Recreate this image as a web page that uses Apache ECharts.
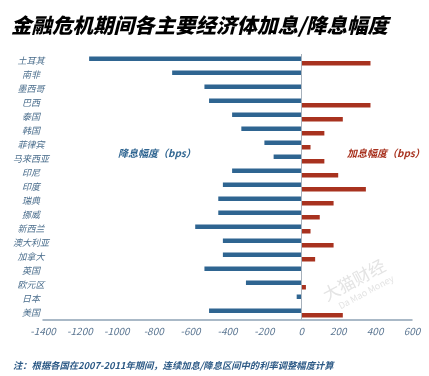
<!DOCTYPE html>
<html>
<head>
<meta charset="utf-8">
<script src="https://cdn.jsdelivr.net/npm/echarts@6/dist/echarts.min.js"></script>
<style>
  html, body { margin: 0; padding: 0; background: #fff; }
  #chart { width: 429px; height: 376px; }
</style>
</head>
<body>
<div id="chart"></div>
<script>
// 各经济体
var countries = ['土耳其', '南非', '墨西哥', '巴西', '泰国', '韩国', '菲律宾', '马来西亚', '印尼', '印度',
    '瑞典', '挪威', '新西兰', '澳大利亚', '加拿大', '英国', '欧元区', '日本', '美国'];
// 降息幅度 (bps)
var cutBps = [-1150, -700, -525, -500, -375, -325, -200, -150, -375, -425,
    -450, -450, -575, -425, -425, -525, -300, -25, -500];
// 加息幅度 (bps)
var hikeBps = [375, 0, 0, 375, 225, 125, 50, 125, 200, 350,
    175, 100, 50, 175, 75, 0, 25, 0, 225];

var FONT = '"Noto Sans CJK SC", "Noto Sans", sans-serif';
var blue = '#2f6591';
var red = '#a8321f';

var myChart = echarts.init(document.getElementById('chart'));

var option = {
    animation: false,
    title: {
        text: '金融危机期间各主要经济体加息/降息幅度',
        left: 6,
        top: 10,
        textStyle: {
            fontFamily: FONT,
            fontSize: 20.5,
            fontWeight: 900,
            fontStyle: 'italic',
            color: '#000'
        }
    },
    grid: {
        left: 43,
        right: 17,
        top: 54,
        bottom: 56
    },
    xAxis: {
        type: 'value',
        min: -1400,
        max: 600,
        interval: 200,
        splitLine: { show: false },
        axisTick: { show: false },
        axisLine: { show: true, lineStyle: { color: '#8fa3b5', width: 1.5 } },
        axisLabel: {
            margin: 6,
            fontFamily: FONT,
            fontSize: 10,
            fontStyle: 'italic',
            color: '#5a7591',
            formatter: function (v) { return String(v); }
        }
    },
    yAxis: {
        type: 'category',
        inverse: true,
        data: countries,
        axisLine: { show: false },
        axisTick: { show: false },
        axisLabel: {
            align: 'center',
            margin: 12,
            fontFamily: FONT,
            fontSize: 9,
            fontStyle: 'italic',
            color: '#4a6d8c'
        }
    },
    series: [
        {
            name: '降息幅度',
            type: 'bar',
            data: cutBps,
            barWidth: 4.5,
            barGap: '0%',
            itemStyle: { color: blue },
            markLine: {
                silent: true,
                symbol: 'none',
                label: { show: false },
                lineStyle: { color: '#a7b1bb', width: 1, type: 'solid' },
                data: [{ xAxis: 0 }]
            }
        },
        {
            name: '加息幅度',
            type: 'bar',
            data: hikeBps,
            barWidth: 4.5,
            barGap: '0%',
            itemStyle: { color: red }
        }
    ],
    graphic: [
        {
            type: 'text',
            left: 118,
            top: 148,
            style: {
                text: '降息幅度（bps）',
                font: 'italic bold 10px ' + FONT,
                fill: blue
            }
        },
        {
            type: 'text',
            left: 347,
            top: 148,
            style: {
                text: '加息幅度（bps）',
                font: 'italic bold 10px ' + FONT,
                fill: red
            }
        },
        {
            type: 'text',
            left: 13,
            top: 361,
            style: {
                text: '注：根据各国在2007-2011年期间，连续加息/降息区间中的利率调整幅度计算',
                font: 'italic bold 9.3px ' + FONT,
                fill: '#2d5a86'
            }
        },
        // 水印
        {
            type: 'text',
            x: 354,
            y: 280,
            rotation: 0.49,
            z: -1,
            style: {
                text: '大猫财经',
                font: '17px ' + FONT,
                fill: '#e4e4e4',
                align: 'center',
                verticalAlign: 'middle'
            }
        },
        {
            type: 'text',
            x: 366,
            y: 292,
            rotation: 0.49,
            z: -1,
            style: {
                text: 'Da Mao Money',
                font: '9px ' + FONT,
                fill: '#e4e4e4',
                align: 'center',
                verticalAlign: 'middle'
            }
        }
    ]
};

myChart.setOption(option);
</script>
</body>
</html>
